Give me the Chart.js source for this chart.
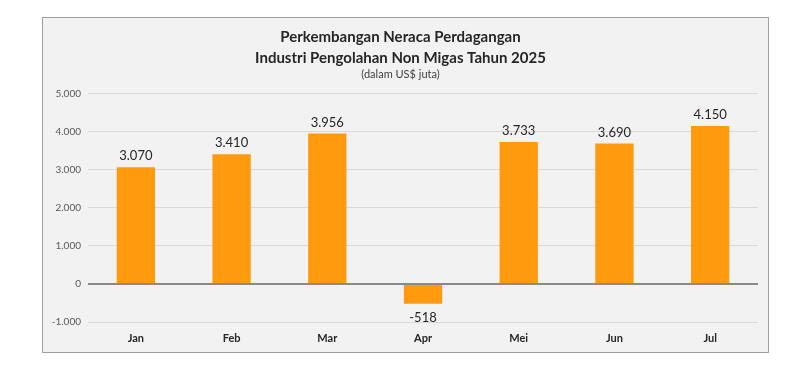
<!DOCTYPE html>
<html>
<head>
<meta charset="utf-8">
<script src="https://cdn.jsdelivr.net/npm/chart.js@4"></script>
<style>
  html, body { margin: 0; padding: 0; background: #fff; }
  .frame {
    position: absolute; left: 42px; top: 17px;
    width: 725px; height: 334px;
    background: #f2f2f2; border: 1px solid #a0a0a0;
  }
  canvas { display: block; }
</style>
</head>
<body>
<div class="frame"><canvas id="chart" width="725" height="334"></canvas></div>
<script>
const months = ['Jan', 'Feb', 'Mar', 'Apr', 'Mei', 'Jun', 'Jul'];
const balance = [3070, 3410, 3956, -518, 3733, 3690, 4150];
const titleLines = ['Perkembangan Neraca Perdagangan', 'Industri Pengolahan Non Migas Tahun 2025'];
const subtitleText = '(dalam US$ juta)';

const fmt = v => v.toLocaleString('de-DE');

const valueLabels = {
    id: 'valueLabels',
    afterDatasetsDraw(chart) {
        const ctx = chart.ctx;
        const meta = chart.getDatasetMeta(0);
        ctx.save();
        ctx.font = '13px Lato';
        ctx.fillStyle = '#262626';
        ctx.textAlign = 'center';
        ctx.textBaseline = 'middle';
        meta.data.forEach((bar, i) => {
            const v = balance[i];
            const y = v >= 0 ? bar.y - 11 : bar.y + 14;
            ctx.fillText(fmt(v), bar.x, y);
        });
        ctx.restore();
    }
};

new Chart(document.getElementById('chart'), {
    type: 'bar',
    data: {
        labels: months,
        datasets: [{
            data: balance,
            backgroundColor: '#ff9a0f',
            categoryPercentage: 1,
            barPercentage: 0.4
        }]
    },
    options: {
        responsive: false,
        animation: false,
        layout: { padding: { left: 0, right: 10, top: 0, bottom: 0 } },
        scales: {
            x: {
                afterFit: s => { s.height = 30; },
                grid: { display: false, drawTicks: false },
                border: { display: false },
                ticks: { color: '#262626', font: { family: 'Lato', size: 11, weight: 'bold' }, padding: 10, maxRotation: 0 }
            },
            y: {
                min: -1000,
                max: 5000,
                afterFit: s => { s.width = 45; },
                border: { display: false },
                grid: {
                    color: c => c.tick.value === 0 ? '#8a8a8a' : '#d9d9d9',
                    lineWidth: c => c.tick.value === 0 ? 2 : 1,
                    drawTicks: false
                },
                ticks: {
                    stepSize: 1000,
                    padding: 7,
                    color: '#595959',
                    font: { family: 'Lato', size: 10 },
                    callback: v => fmt(v)
                }
            }
        },
        plugins: {
            legend: { display: false },
            tooltip: { enabled: false },
            title: {
                display: true,
                text: titleLines,
                color: '#262626',
                font: { family: 'Lato', size: 15, weight: 'bold', lineHeight: 1.45 },
                padding: { top: 8, bottom: 0 }
            },
            subtitle: {
                display: true,
                text: subtitleText,
                color: '#404040',
                font: { family: 'Lato', size: 11 },
                padding: { top: -2, bottom: 13 }
            }
        }
    },
    plugins: [valueLabels]
});
</script>
</body>
</html>
